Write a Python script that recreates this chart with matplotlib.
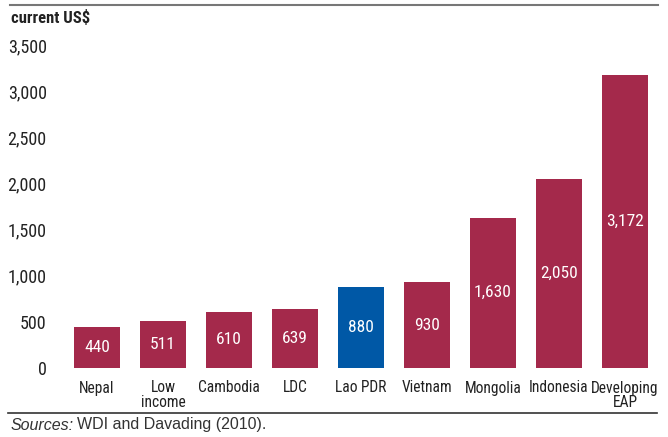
import matplotlib
matplotlib.use("Agg")
import matplotlib.pyplot as plt
from matplotlib.lines import Line2D

categories = ["Nepal", "Low\nincome", "Cambodia", "LDC", "Lao PDR", "Vietnam",
              "Mongolia", "Indonesia", "Developing\nEAP"]
values = [440, 511, 610, 639, 880, 930, 1630, 2050, 3172]
highlight = "Lao PDR"
yticks = [0, 500, 1000, 1500, 2000, 2500, 3000, 3500]

plt.rcParams['font.family'] = ['Liberation Sans Narrow', 'DejaVu Sans Condensed', 'Roboto Condensed',
                               'Liberation Sans', 'DejaVu Sans']

W, H = 668, 437
fig = plt.figure(figsize=(W/100, H/100), dpi=100)
ax = fig.add_axes([55/W, 1-368/H, (658-55)/W, (368-45)/H])

maroon = "#A4294B"
blue = "#0058A6"
x = list(range(len(categories)))
colors = [blue if c == highlight else maroon for c in categories]
ax.bar(x, values, width=0.7, color=colors)
for xi, v in zip(x, values):
    ax.text(xi, v/2, f"{v:,}", ha="center", va="center", color="white", fontsize=12.5)

ax.set_ylim(0, 3500)
ax.set_xlim((55-97)/66, (658-97)/66)
ax.set_yticks(yticks)
ax.set_yticklabels([f"{t:,}" for t in yticks], fontsize=13, color="#222222")
ax.tick_params(axis="y", length=0, pad=6)
ax.set_xticks(x)
ax.set_xticklabels(categories, fontsize=11.2, color="#222222", linespacing=0.95)
ax.tick_params(axis="x", length=0, pad=9)
for s in ax.spines.values():
    s.set_visible(False)

fig.add_artist(Line2D([10/W, 658/W], [1-5/H, 1-5/H], color="#777777", lw=1.5))
fig.add_artist(Line2D([8/W, 657/W], [1-413/H, 1-413/H], color="#333333", lw=1.2))
fig.text(11/W, 1-18/H, "current US$", fontsize=12, fontweight="bold", va="center", ha="left", color="#222222")
t1 = fig.text(11/W, 1-425/H, "Sources:", fontsize=11.5, style="italic", va="center", ha="left", color="#333333",
              family=['Liberation Sans', 'DejaVu Sans'])
fig.canvas.draw()
bb = t1.get_window_extent()
fig.text(bb.x1/W + 3/W, 1-425/H, "WDI and Davading (2010).", fontsize=11.5, va="center", ha="left", color="#333333",
         family=['Liberation Sans', 'DejaVu Sans'])

fig.savefig("out.png", dpi=100)
